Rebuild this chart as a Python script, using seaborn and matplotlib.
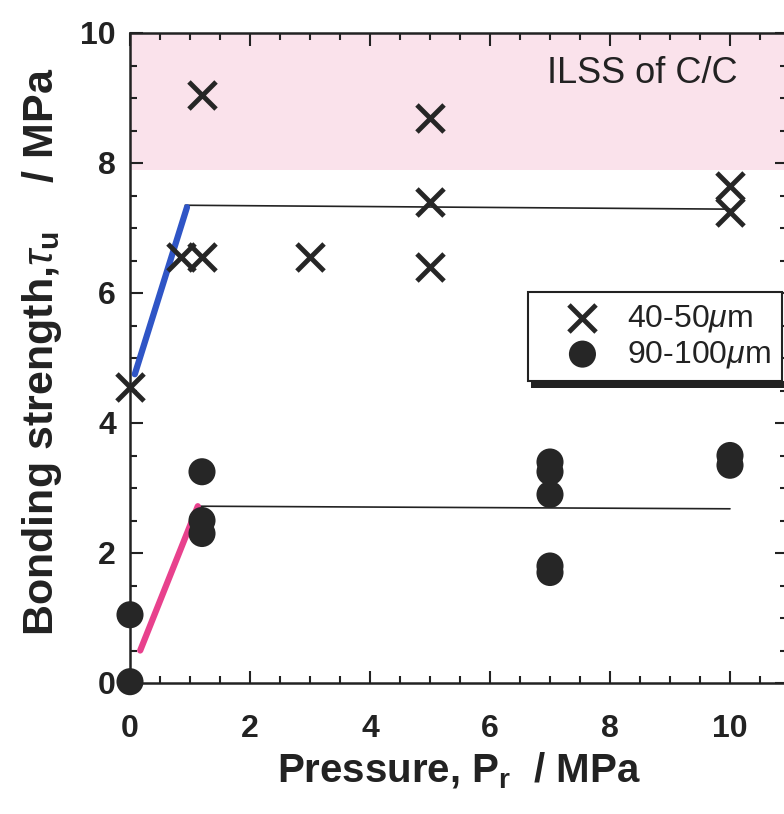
import numpy as np
import pandas as pd
import matplotlib
matplotlib.use("Agg")
import matplotlib.pyplot as plt
from matplotlib.patches import Rectangle
from matplotlib.ticker import MultipleLocator
import seaborn as sns

# data
p_small = [0.0, 0.85, 1.2, 1.2, 3.0, 5.0, 5.0, 5.0, 10.0, 10.0]
tau_small = [4.55, 6.55, 6.55, 9.05, 6.55, 8.7, 7.4, 6.4, 7.65, 7.25]

p_large = [0.0, 0.0, 1.2, 1.2, 1.2, 7.0, 7.0, 7.0, 7.0, 7.0, 10.0, 10.0]
tau_large = [0.02, 1.05, 3.25, 2.5, 2.3, 3.4, 3.25, 2.9, 1.8, 1.7, 3.5, 3.35]

# guide lines drawn in the figure
small_rise_p = [0.08, 0.95]
small_rise_tau = [4.75, 7.32]
small_flat_p = [0.92, 10.0]
small_flat_tau = [7.35, 7.29]
large_rise_p = [0.17, 1.13]
large_rise_tau = [0.5, 2.72]
large_flat_p = [1.13, 10.0]
large_flat_tau = [2.72, 2.68]

ilss_band = [7.9, 10.0]

sns.set_theme(style="ticks")
plt.rcParams['font.family'] = ['Liberation Sans', 'DejaVu Sans']
plt.rcParams['mathtext.fontset'] = 'custom'
plt.rcParams['mathtext.rm'] = 'Liberation Sans'
plt.rcParams['mathtext.it'] = 'Liberation Sans:italic'
plt.rcParams['mathtext.bf'] = 'Liberation Sans:bold'

df_small = pd.DataFrame({"P": p_small, "tau": tau_small})
df_large = pd.DataFrame({"P": p_large, "tau": tau_large})

fig = plt.figure(figsize=(7.84, 8.14), dpi=100)
ax = fig.add_axes([130 / 784, 131 / 814, 657 / 784, 650 / 814])

ax.axhspan(ilss_band[0], ilss_band[1], color="#fae2eb", lw=0, zorder=0)

sns.lineplot(x=small_flat_p, y=small_flat_tau, color="#222222", lw=1.2, ax=ax)
sns.lineplot(x=large_flat_p, y=large_flat_tau, color="#222222", lw=1.2, ax=ax)
sns.lineplot(x=small_rise_p, y=small_rise_tau, color="#2f55c6", lw=4.5, ax=ax)
sns.lineplot(x=large_rise_p, y=large_rise_tau, color="#e8418d", lw=4.5, ax=ax)

sns.scatterplot(data=df_small, x="P", y="tau", marker="x", s=380, color="#262626",
                linewidth=3.5, ax=ax, label="40-50$\\mu$m", zorder=5, clip_on=False)
sns.scatterplot(data=df_large, x="P", y="tau", marker="o", s=380, color="#262626",
                edgecolor="none", ax=ax, label="90-100$\\mu$m", zorder=5, clip_on=False)

ax.set_xlim(0, 10.95)
ax.set_ylim(0, 10)
ax.xaxis.set_major_locator(MultipleLocator(2))
ax.xaxis.set_minor_locator(MultipleLocator(0.5))
ax.yaxis.set_major_locator(MultipleLocator(2))
ax.yaxis.set_minor_locator(MultipleLocator(0.5))
ax.tick_params(which="both", direction="in", top=True, right=True, width=1.5, color="#222222")
ax.tick_params(which="major", length=9)
ax.tick_params(which="minor", length=5)
ax.tick_params(axis="x", which="major", pad=22, labelsize=23)
ax.tick_params(axis="y", which="major", pad=10, labelsize=23)
for lab in ax.get_xticklabels() + ax.get_yticklabels():
    lab.set_fontweight("bold")
    lab.set_color("#222222")
for sp in ax.spines.values():
    sp.set_linewidth(1.8)
    sp.set_color("#222222")

ax.set_xlabel("Pressure, P$_{\\mathbf{r}}$  / MPa", fontsize=29, fontweight="bold", color="#222222")
ax.set_ylabel("Bonding strength,$\\tau_{\\mathbf{u}}$    / MPa", fontsize=31, fontweight="bold", color="#222222")
ax.xaxis.set_label_coords(0.5, -0.105)
ax.yaxis.set_label_coords(-0.101, 0.51)

ax.text(6.95, 9.23, "ILSS of C/C", fontsize=26, color="#222222", va="baseline")

leg = ax.legend(loc="upper left", bbox_to_anchor=(0.606, 0.6015), fontsize=23,
                frameon=True, fancybox=False, edgecolor="#222222", framealpha=1,
                handletextpad=0.05, borderpad=0.35, labelspacing=0.15, handlelength=2.7,
                borderaxespad=0)
leg.get_frame().set_linewidth(1.5)
for t in leg.get_texts():
    t.set_color("#222222")

fig.canvas.draw()
bb = leg.get_window_extent()
fig.patches.append(Rectangle((bb.x0 + 3, bb.y0 - 7), bb.width, 7, transform=None,
                             facecolor="#222222", edgecolor="none", zorder=10))

fig.savefig("out.png", dpi=100)
